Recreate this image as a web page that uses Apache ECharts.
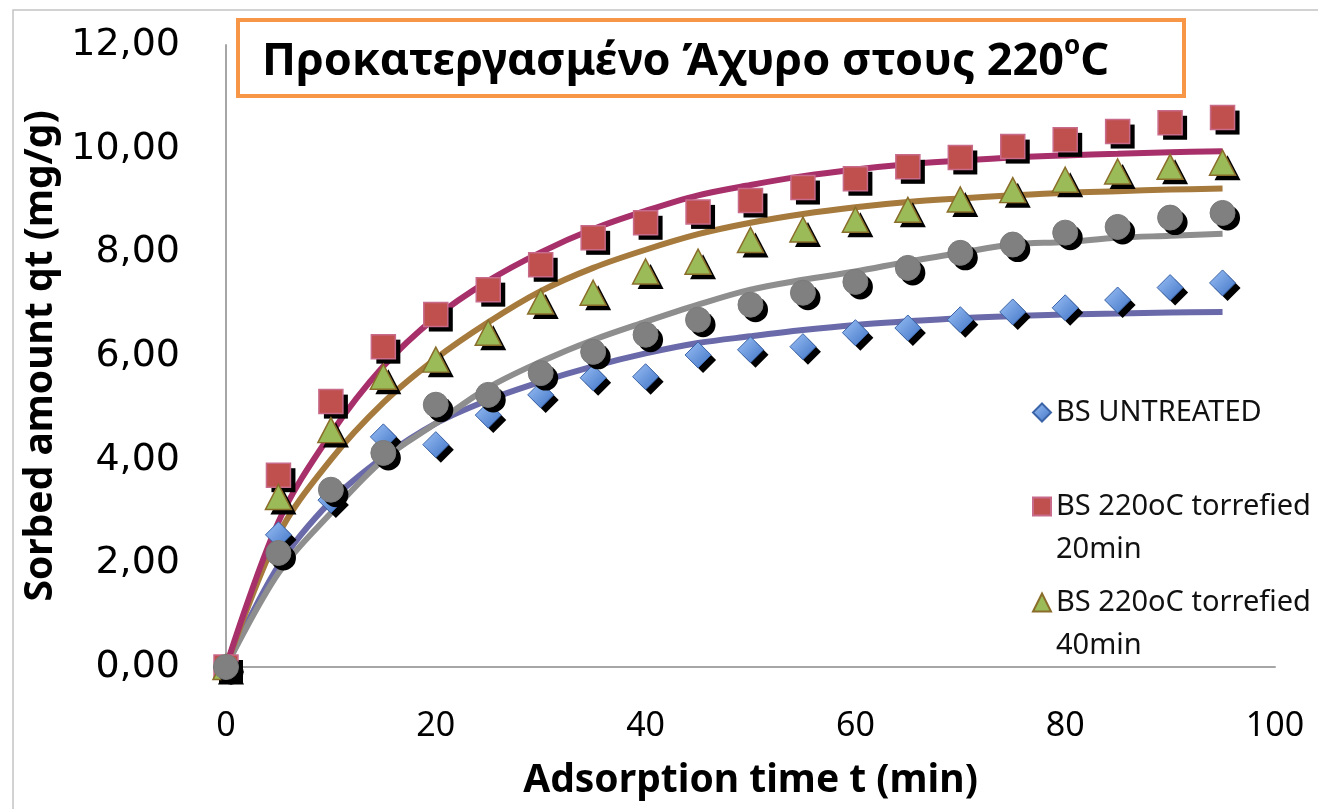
<!DOCTYPE html>
<html>
<head>
<meta charset="utf-8">
<script src="https://cdn.jsdelivr.net/npm/echarts@6/dist/echarts.min.js"></script>
<style>
html,body{margin:0;padding:0;background:#fff;}
#chart{width:1318px;height:809px;}
</style>
</head>
<body>
<div id="chart"></div>
<script>
// ---- data ----
const times = [0, 5, 10, 15, 20, 25, 30, 35, 40, 45, 50, 55, 60, 65, 70, 75, 80, 85, 90, 95];
const xTicks = [0, 20, 40, 60, 80, 100];
const yTicks = [0, 2, 4, 6, 8, 10, 12];

const bsUntreated = [0, 2.55, 3.22, 4.44, 4.29, 4.86, 5.25, 5.58, 5.60, 6.02, 6.12, 6.18, 6.45, 6.54, 6.70, 6.85, 6.93, 7.08, 7.32, 7.41];
const bs20min     = [0, 3.70, 5.12, 6.18, 6.80, 7.28, 7.76, 8.28, 8.57, 8.78, 9.00, 9.25, 9.42, 9.65, 9.83, 10.04, 10.17, 10.33, 10.50, 10.60];
const bs40min     = [0, 3.28, 4.57, 5.60, 5.93, 6.45, 7.05, 7.22, 7.63, 7.82, 8.24, 8.44, 8.63, 8.82, 9.02, 9.20, 9.40, 9.56, 9.65, 9.73];
const bs60min     = [0, 2.20, 3.42, 4.13, 5.06, 5.25, 5.67, 6.08, 6.41, 6.70, 6.99, 7.22, 7.43, 7.70, 7.99, 8.15, 8.38, 8.49, 8.67, 8.76];

const fitUntreated = [0, 1.95, 3.20, 4.05, 4.70, 5.15, 5.50, 5.80, 6.05, 6.25, 6.38, 6.50, 6.60, 6.67, 6.73, 6.77, 6.80, 6.82, 6.84, 6.85];
const fit20min     = [0, 2.80, 4.50, 5.80, 6.75, 7.45, 8.00, 8.45, 8.80, 9.10, 9.30, 9.47, 9.60, 9.70, 9.77, 9.83, 9.87, 9.90, 9.93, 9.95];
const fit40min     = [0, 2.55, 4.00, 5.10, 5.95, 6.65, 7.25, 7.70, 8.05, 8.35, 8.57, 8.74, 8.87, 8.97, 9.04, 9.10, 9.15, 9.18, 9.21, 9.23];
const fit60min     = [0, 1.81, 2.97, 4.00, 4.70, 5.39, 5.89, 6.31, 6.66, 6.99, 7.28, 7.47, 7.63, 7.82, 7.99, 8.15, 8.20, 8.28, 8.32, 8.36];

const names = ['BS UNTREATED', 'BS 220oC torrefied 20min', 'BS 220oC torrefied 40min', 'BS 220oC torrefied 60min'];
const titleText = 'Προκατεργασμένο Άχυρο στους 220';
const xName = 'Adsorption time t (min)';
const yName = 'Sorbed amount qt (mg/g)';

// ---- build ----
const pairs = arr => arr.map((v, i) => [times[i], v]);

function fitLine(name, data, color) {
  return {
    name: name, type: 'line', data: pairs(data), smooth: 0.35, symbol: 'none',
    lineStyle: {color: color, width: 6}, z: 2, silent: true
  };
}
function scatterPair(name, data, symbol, size, itemStyle) {
  return [{
    name: name + ' shadow', type: 'scatter', data: pairs(data), symbol: symbol, symbolSize: size,
    symbolOffset: [5, 5], itemStyle: {color: '#000', opacity: 1}, z: 3, silent: true
  }, {
    name: name, type: 'scatter', data: pairs(data), symbol: symbol, symbolSize: size,
    itemStyle: Object.assign({opacity: 1}, itemStyle), z: 3
  }];
}

const legendText = {fontFamily: 'Noto Sans', fontSize: 29, color: '#111', lineHeight: 43};
const legendCommon = {orient: 'vertical', left: 1032, itemWidth: 18, itemHeight: 18, padding: 0};

const chart = echarts.init(document.getElementById('chart'), null, {renderer: 'canvas'});
chart.setOption({
  animation: false,
  backgroundColor: '#fff',
  graphic: [{
    type: 'rect', silent: true, z: -10,
    shape: {x: 13, y: 10, width: 1400, height: 900},
    style: {fill: 'none', stroke: '#c4c4c4', lineWidth: 1.5}
  }],
  title: {
    text: '{a|' + titleText + '}{s|o}{a|C}',
    left: 238, top: 20,
    padding: [14, 75, 12, 24],
    borderColor: '#f79646', borderWidth: 4, backgroundColor: '#fff',
    textStyle: {
      rich: {
        a: {fontFamily: 'Noto Sans', fontWeight: 'bold', fontSize: 45, color: '#000', lineHeight: 56},
        s: {fontFamily: 'Noto Sans', fontWeight: 'bold', fontSize: 26, color: '#000', lineHeight: 32, verticalAlign: 'top'}
      }
    }
  },
  legend: [
    Object.assign({}, legendCommon, {top: 391, data: [names[0]], textStyle: legendText}),
    Object.assign({}, legendCommon, {top: 442, data: [names[1]],
      formatter: n => '\n' + n.replace(' 20min', '\n20min'), textStyle: legendText}),
    Object.assign({}, legendCommon, {top: 538, data: [names[2]],
      formatter: n => '\n' + n.replace(' 40min', '\n40min'), textStyle: legendText})
  ],
  grid: {left: 226, right: 43, top: 45, bottom: 142, containLabel: false},
  xAxis: {
    type: 'value', min: xTicks[0], max: xTicks[xTicks.length - 1], interval: xTicks[1] - xTicks[0],
    axisLine: {show: true, lineStyle: {color: '#a6a6a6', width: 2}},
    axisTick: {show: false}, splitLine: {show: false},
    axisLabel: {fontFamily: 'Noto Sans', fontSize: 34, color: '#000', margin: 42},
    name: xName, nameLocation: 'middle', nameGap: 94,
    nameTextStyle: {fontFamily: 'Noto Sans', fontWeight: 'bold', fontSize: 39, color: '#000'}
  },
  yAxis: {
    type: 'value', min: yTicks[0], max: yTicks[yTicks.length - 1], interval: yTicks[1] - yTicks[0],
    axisLine: {show: true, lineStyle: {color: '#a6a6a6', width: 2}},
    axisTick: {show: false}, splitLine: {show: false},
    axisLabel: {fontFamily: 'DejaVu Sans', fontSize: 38, color: '#000', margin: 46,
      formatter: v => v.toFixed(2).replace('.', ',')},
    name: yName, nameLocation: 'middle', nameRotate: 90, nameGap: 147,
    nameTextStyle: {fontFamily: 'Noto Sans', fontWeight: 'bold', fontSize: 39, color: '#000'}
  },
  series: [
    fitLine('fit untreated', fitUntreated, '#6a6aaa'),
    fitLine('fit 60min', fit60min, '#8e8e8e'),
    fitLine('fit 40min', fit40min, '#a57a3c'),
    fitLine('fit 20min', fit20min, '#a8306a')
  ].concat(
    scatterPair(names[0], bsUntreated, 'diamond', [26, 26], {
      color: new echarts.graphic.LinearGradient(0, 0, 1, 1, [{offset: 0, color: '#9cc1f5'}, {offset: 1, color: '#3f73c6'}]),
      borderColor: '#3b64a8', borderWidth: 1
    }),
    scatterPair(names[1], bs20min, 'rect', [24, 24], {color: '#c0504d', borderColor: '#c86a8a', borderWidth: 1.5}),
    scatterPair(names[2], bs40min, 'triangle', [26, 25], {color: '#9bbb59', borderColor: '#8a6d2a', borderWidth: 1.5}),
    scatterPair(names[3], bs60min, 'circle', 25, {color: '#808080', borderColor: '#7a7a7a', borderWidth: 1})
  )
});
</script>
</body>
</html>
